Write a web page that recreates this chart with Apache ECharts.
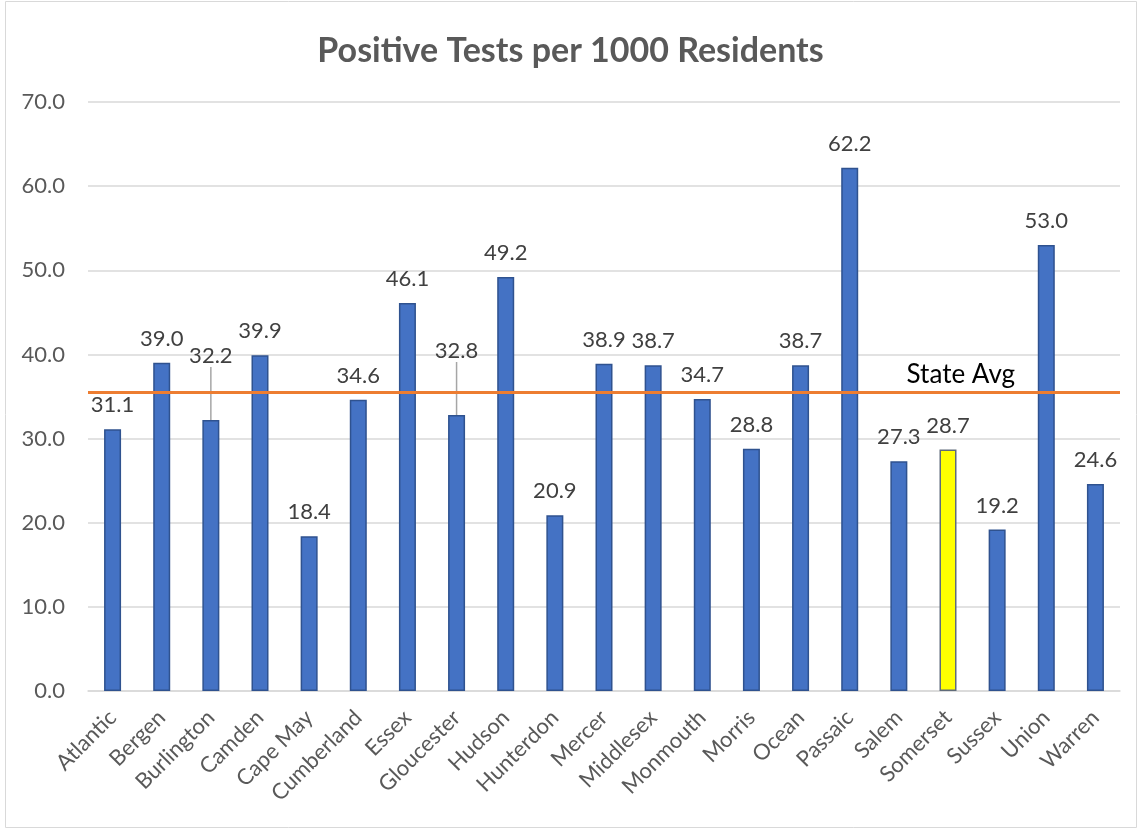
<!DOCTYPE html>
<html><head><meta charset="utf-8">
<script src="https://cdn.jsdelivr.net/npm/echarts@6/dist/echarts.min.js"></script>
<style>html,body{margin:0;padding:0;background:#fff}#c{width:1141px;height:831px}</style>
</head><body><div id="c"></div>
<script>
const counties = ["Atlantic","Bergen","Burlington","Camden","Cape May","Cumberland","Essex","Gloucester","Hudson","Hunterdon","Mercer","Middlesex","Monmouth","Morris","Ocean","Passaic","Salem","Somerset","Sussex","Union","Warren"];
const positivePer1000 = [31.1,39.0,32.2,39.9,18.4,34.6,46.1,32.8,49.2,20.9,38.9,38.7,34.7,28.8,38.7,62.2,27.3,28.7,19.2,53.0,24.6];
const stateAvg = 35.5;
const highlighted = ["Somerset"];
const raisedLabels = ["Burlington","Gloucester"];
const yTicks = {min:0, max:70, interval:10};

const FONT = 'Lato, "Open Sans", sans-serif';
const chart = echarts.init(document.getElementById('c'), null, {renderer:'canvas'});
const data = positivePer1000.map((v,i)=>{
  const o = {value:v};
  if (highlighted.includes(counties[i])) o.itemStyle = {color:'#FFFF00', borderColor:'#5F6B7A'};
  if (raisedLabels.includes(counties[i])) o.labelLine = {show:true, lineStyle:{color:'#A6A6A6', width:1.5}};
  return o;
});
chart.setOption({
  animation:false,
  title:{text:'Positive Tests per 1000 Residents', left:'center', top:29,
    textStyle:{fontFamily:FONT, fontWeight:'bold', fontSize:34, color:'#595959'}},
  graphic:[{type:'rect', shape:{x:5.5,y:1.5,width:1131,height:826}, style:{fill:'none', stroke:'#D9D9D9', lineWidth:1}, silent:true}],
  grid:{left:88, right:21, top:102, bottom:140},
  xAxis:{type:'category', data:counties,
    axisLine:{lineStyle:{color:'#D9D9D9', width:1.5}}, axisTick:{show:false},
    axisLabel:{rotate:45, interval:0, margin:23, fontFamily:FONT, fontSize:22, color:'#595959'}},
  yAxis:{type:'value', min:yTicks.min, max:yTicks.max, interval:yTicks.interval,
    axisLine:{show:false}, axisTick:{show:false},
    splitLine:{lineStyle:{color:'#D9D9D9', width:1.5}},
    axisLabel:{margin:23, fontFamily:FONT, fontSize:22, color:'#595959', formatter:v=>v.toFixed(1)}},
  series:[{type:'bar', data:data, barWidth:17,
    itemStyle:{color:'#4472C4', borderColor:'#2F528F', borderWidth:1.5},
    label:{show:true, position:'top', distance:13, fontFamily:FONT, fontSize:22, color:'#404040', formatter:p=>p.value.toFixed(1)},
    labelLayout:function(p){ return raisedLabels.includes(counties[p.dataIndex]) ? {dy:-40} : {}; },
    markLine:{symbol:'none', silent:true,
      lineStyle:{color:'#ED7D31', width:3, type:'solid'},
      label:{show:true, formatter:'State Avg', position:'insideEndTop', distance:[105,5], fontFamily:FONT, fontSize:26, color:'#000'},
      data:[{yAxis:stateAvg}]}
  }]
});
</script></body></html>
